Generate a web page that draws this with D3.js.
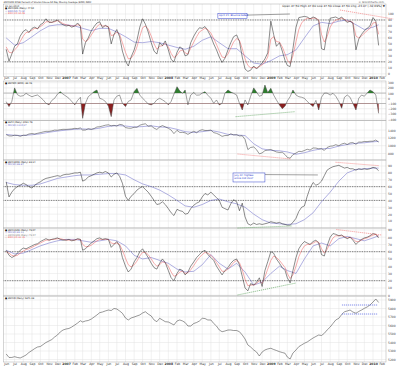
<!DOCTYPE html>
<html>
<head>
<meta charset="utf-8">
<script src="https://cdnjs.cloudflare.com/ajax/libs/d3/7.8.5/d3.min.js"></script>
<style>
  body { margin: 0; background: #fff; }
  svg { display: block; }
  text { font-family: "DejaVu Sans", "Liberation Sans", sans-serif; }
</style>
</head>
<body>
<svg id="chart" width="400" height="369"></svg>
<script>
// ---- dates: every 10 days (1st, 11th, 21st) and monthly, Jun 2006 .. Jan 2010
const days10 = [];
for (let m = 0; m < 44; m++) [1, 11, 21].forEach(d => days10.push(new Date(2006, 5 + m, d)));
const months = [];
for (let m = 0; m < 44; m++) months.push(new Date(2006, 5 + m, 1));
months.push(new Date(2010, 0, 21));

// ---- panel 1: $NYA50R
const nya50r = [41,21,33,46,50,63,71,74,69,76, 78,75,82,85,92,86,86,88,90,85, 82,80,81,78,80,85,79,33,52,60,
  72,79,85,87,77,81,78,50,66,74, 62,38,21,13,28,40,56,78,92,83, 70,52,38,33,52,47,55,40,24,20,
  36,45,42,30,32,52,63,71,77,76, 79,72,62,50,40,28,19,26,40,52, 62,65,54,28,8,4,6,13,8,13,
  18,25,35,88,66,46,52,38,22,14, 12,42,78,94,95,96,95,92,95,93, 88,42,40,70,93,94,95,92,95,90,
  86,88,85,40,58,66,72,76,80,94, 88,47.5];
const nya50rEma10 = [45,36,35,40,45,54,63,69,70,73, 76,76,79,82,87,87,86,87,89,87, 84,82,81,80,80,82,81,58,54,57,
  65,72,79,83,80,80,79,64,65,70, 66,52,36,25,26,33,45,62,77,80, 75,63,50,41,46,47,51,45,34,27,
  31,38,40,35,33,43,53,62,70,73, 76,74,68,59,49,38,28,27,33,43, 53,59,56,42,25,14,10,11,10,12,
  15,20,28,58,62,54,53,45,33,23, 17,30,54,74,85,90,93,92,93,93, 90,66,53,62,78,86,90,91,93,91,
  88,88,86,63,60,63,68,72,76,85, 86,66];
const nya50rEma50 = [60,48,52,62,72,80,82,82,80,76, 72,76,76,70,62,53,52,54,52,48, 44,41,46,56,62,52,42,42,30,18,
  16,22,30,32,40,60,80,86,84,88, 90,82,74,78,82];

// ---- panel 2: $NYMO
const nymo = [-65,-160,-60,200,70,40,50,96,60,30, 50,63,20,-30,-96,-125,-40,0,80,127, 80,40,0,-60,-125,-40,20,-385,-96,31,
  80,130,160,0,-20,-60,-150,-353,-32,40, 63,-96,-160,-60,-32,130,191,63,0,-50, -110,-125,-96,-30,0,-30,-65,-125,-60,80,
  223,140,96,160,-125,63,110,60,63,100, 127,60,0,-96,-32,-128,-96,96,160,120, 96,63,-96,-225,-32,-128,40,200,120,40,
  60,256,110,192,63,-32,-128,-200,-150,-50, 31,160,63,31,20,0,-60,-110,-160,-40, -225,20,100,100,63,96,40,-60,-192,20,
  63,20,-96,-225,0,63,40,100,160,127, 63,-290];

// ---- panel 3: $SPX
const spx = [1285,1250,1250,1270,1265,1240,1270,1265,1300,1311,1300,1318,1335,1353,1368,1367,1380,1400,1396,1410,1420,
  1418,1423,1430,1445,1438,1456,1400,1402,1435,1420,1440,1480,1486,1505,1525,1536,1510,1522,1503,1547,1534,
  1465,1450,1447,1474,1472,1525,1547,1562,1500,1508,1450,1416,1481,1515,1484,
  1447,1401,1310,1395,1340,1342,1330,1290,1330,1370,1332,1388,1409,1390,1390,1400,1335,1318,1284,1239,1260,
  1260,1305,1277,1282,1250,1255,1160,900,955,968,898,790,816,873,887,
  903,870,840,826,833,770,700,680,770,811,856,850,877,909,888,942,939,921,923,880,954,
  987,994,1026,998,1042,1064,1030,1072,1080,1036,1093,1091,1108,1106,1114,1115,1146,1091.76];
const spxMa50 = [1290,1265,1262,1280,1305,1345,1375,1400,1420,1430, 1420,1450,1495,1515,1505,1480,1490,1510,1480,1470,
  1420,1360,1340,1360,1390,1350,1290,1275,1260,1050, 920,880,870,840,780,820,880,920,930,990, 1030,1060,1075,1100,1110];

// ---- panel 4: $NYA200R
const nya200r = [67,45,52,57,60,62,65,63,60,58, 62,65,67,70,72,73,74,75,76,75, 77,78,78,79,80,80,81,68,70,74,
  76,78,80,81,80,82,80,74,78,80, 75,65,46,40,46,50,55,58,60,56, 52,46,40,34,35,38,34,28,22,18,
  27,25,24,20,21,28,33,36,38,45, 50,48,52,48,44,40,30,28,26,35, 41,38,25,36,16,6,4,7,5,6,
  5,6,7,9,8,7,8,6,5,4, 4,8,14,24,30,32,46,58,66,62, 64,68,76,84,87,89,90,91,89,87,
  88,86,86,84,86,85,86,85,86,88, 87,83.24];
const nya200rMa50 = [66,63,62,62,64,68,72,74,76,77, 77,78,79,79,77,70,64,60,55,48, 40,32,30,34,40,42,38,35,30,20,
  12,7,6,5,6,12,22,38,52,68, 80,85,86,87,87];

// ---- panel 5: $NYA150R
const nya150r = [62,55,52,54,58,62,65,64,66,68, 70,71,74,76,78,76,77,78,79,77, 76,76,77,75,76,78,77,62,64,68,
  72,75,78,79,77,78,77,66,70,74, 68,52,40,32,36,46,52,60,64,58, 52,44,38,36,44,50,45,34,24,20,
  30,36,34,28,32,40,46,52,56,60, 62,56,52,48,40,34,28,34,38,44, 48,50,42,26,10,6,16,14,18,24,
  12,34,46,60,58,50,44,38,34,24, 17,34,52,64,70,74,72,70,74,76, 72,56,54,68,80,85,84,82,83,80,
  78,80,76,70,74,77,79,80,82,85, 84,79];
const nya150rEma10 = [60,58,55,54,55,58,61,63,64,66, 68,70,72,74,76,76,77,77,78,78, 77,76,76,76,76,77,77,70,67,67,
  69,72,75,77,77,77,77,72,71,72, 70,62,51,42,39,42,47,54,59,59, 56,50,44,40,42,46,45,40,32,26,
  28,32,33,30,31,35,41,47,52,56, 59,58,55,51,45,39,33,33,36,40, 45,48,45,35,22,13,14,14,16,20,
  16,25,36,48,54,52,48,43,38,30, 23,28,40,53,62,68,70,70,72,74, 73,64,58,63,72,79,82,82,82,81,
  79,80,78,74,74,76,78,79,81,83, 84,81];
const nya150rMa20 = [62,57,58,63,68,72,75,77,77,75, 73,75,77,75,68,55,50,52,48,44, 36,32,33,42,56,44,36,44,32,14,
  18,30,40,34,30,50,68,72,68,78, 81,78,75,79,82];

// ---- panel 6: $NYAD
const nyad = [5265,5224,5224,5233,5224,5218,5235,5253,5282,5306, 5329,5347,5353,5376,5400,5418,5435,5465,5488,5524,
  5547,5559,5565,5582,5606,5629,5656,5641,5653,5659, 5676,5700,5724,5751,5759,5771,5782,5776,5800,5794,
  5771,5744,5688,5665,5688,5700,5712,5724,5747,5762, 5735,5712,5665,5645,5685,5665,5645,5641,5624,5606,
  5653,5665,5653,5635,5594,5594,5624,5635,5653,5685, 5682,5665,5665,5624,5594,5547,5527,5535,5547,5547,
  5541,5541,5527,5488,5441,5371,5347,5312,5288,5241, 5288,5312,5324,5332,5318,5306,5292,5282,5273,5229,
  5206,5276,5312,5351,5371,5391,5406,5429,5453,5471, 5488,5482,5508,5547,5582,5624,5665,5685,5729,5762,
  5771,5782,5759,5744,5765,5782,5802,5818,5841,5876, 5912,5871];

// ---- trend lines: [panel, start date, start value, end date, end value, kind]
const trendLines = [
  [0, "2009-09-05", 106.7, "2010-03-15", 91.6, "red"],
  [1, "2008-08-28", -354, "2009-03-27", -258, "green"],
  [2, "2008-09-04", 787, "2009-03-14", 659, "red"],
  [3, "2008-09-04", -0.2, "2009-03-18", 2.8, "green"],
  [3, "2009-08-20", 95.5, "2010-01-22", 90.5, "red"],
  [4, "2008-09-04", 0.3, "2009-04-01", 16.8, "green"],
  [4, "2009-08-23", 90.6, "2010-02-01", 83, "red"],
  [5, "2009-09-12", 5841, "2010-01-17", 5841, "blue"],
  [5, "2009-09-12", 5735, "2010-01-17", 5735, "blue"]
];

// ---------------------------------------------------------------
const svg = d3.select("#chart");
const L = 3.5, R = 386;
const parse = d3.timeParse("%Y-%m-%d");
const x = d3.scaleTime().domain([new Date(2006, 5, 1), new Date(2010, 1, 1)]).range([6.2, 381.7]);
const monthTicks = d3.timeMonth.range(new Date(2006, 5, 1), new Date(2010, 1, 2));

const BLACK = "#1a1a1a", RED = "#ef5a5a", BLUE = "#6262c4";
const trendColor = { red: "#f06a6a", green: "#4d9a4d", blue: "#3344dd" };

const panels = [
  { top: 4, bottom: 76.5, y: d3.scaleLinear().domain([0, 100]).range([73.8, 14]),
    ticks: d3.range(0, 101, 10), dotted: [90, 20],
    legend: [["22-Jan-2010", "#333"], ["\u25a0 $NYA50R (Daily) 47.50", "#111"], ["\u2014 EMA(50) 71.64", BLUE], ["\u2014 EMA(10) 65.08", RED]] },
  { top: 81, bottom: 120.5, y: d3.scaleLinear().domain([0, 100]).range([98.3, 93.1]),
    ticks: d3.range(-400, 301, 100), solid: [100, -100],
    legend: [["\u25a0 $NYMO (EOD) -89.46", "#111"]] },
  { top: 120.5, bottom: 160, y: d3.scaleLinear().domain([1000, 1400]).range([145.7, 130.1]),
    ticks: [800, 1000, 1200, 1400],
    legend: [["\u25a0 $SPX (Daily) 1091.76", "#111"], ["\u2014 MA(50) 1110.27", BLUE]] },
  { top: 160, bottom: 228, y: d3.scaleLinear().domain([0, 100]).range([227.9, 159.15]),
    ticks: d3.range(10, 91, 10), dotted: [60, 40],
    legend: [["\u25a0 $NYA200R (Daily) 83.24", "#111"], ["\u2014 MA(50) 86.87", BLUE]] },
  { top: 228, bottom: 296, y: d3.scaleLinear().domain([0, 100]).range([295.2, 222.7]),
    ticks: d3.range(0, 91, 10), dotted: [60, 20],
    legend: [["\u25a0 $NYA150R (Daily) 79.07", "#111"], ["\u2014 MA(20) 82.11", BLUE], ["\u2014 $NYA150R (Daily) 79.07", "#777"], ["\u2014 EMA(10) 81.35", RED]] },
  { top: 296, bottom: 362, y: d3.scaleLinear().domain([5900, 5200]).range([300, 359.5]),
    ticks: d3.range(5200, 5901, 100),
    legend: [["\u25a0 $NYAD (Daily) 5871.28", "#111"]] }
];

// frames, grids, labels
panels.forEach(function (p) {
  const g = svg.append("g");
  g.selectAll("line.v").data(monthTicks).enter().append("line")
    .attr("x1", d => x(d)).attr("x2", d => x(d))
    .attr("y1", p.top).attr("y2", p.bottom)
    .attr("stroke", "#e2e2e2").attr("stroke-width", 0.5);
  g.selectAll("line.h").data(p.ticks.filter(t => p.y(t) > p.top + 0.5 && p.y(t) < p.bottom - 0.5)).enter().append("line")
    .attr("x1", L).attr("x2", R)
    .attr("y1", d => p.y(d)).attr("y2", d => p.y(d))
    .attr("stroke", "#e2e2e2").attr("stroke-width", 0.5);
  (p.solid || []).forEach(function (v) {
    g.append("line").attr("x1", L).attr("x2", R).attr("y1", p.y(v)).attr("y2", p.y(v))
      .attr("stroke", "#999").attr("stroke-width", 0.6);
  });
  (p.dotted || []).forEach(function (v) {
    g.append("line").attr("x1", L).attr("x2", R).attr("y1", p.y(v)).attr("y2", p.y(v))
      .attr("stroke", "#222").attr("stroke-width", 0.7).attr("stroke-dasharray", "0.8,0.9");
  });
  g.append("rect").attr("x", L).attr("y", p.top).attr("width", R - L).attr("height", p.bottom - p.top)
    .attr("fill", "none").attr("stroke", "#aaa").attr("stroke-width", 0.5);

  const ax = svg.append("g").attr("transform", "translate(" + R + ",0)")
    .call(d3.axisRight(p.y).tickValues(p.ticks.filter(t => p.y(t) > p.top && p.y(t) < p.bottom + 1))
      .tickSize(0).tickPadding(2).tickFormat(d3.format("d")));
  ax.select(".domain").remove();
  ax.selectAll("text").attr("font-size", 3).attr("fill", "#444").attr("font-family", "DejaVu Sans");

  p.legend.forEach(function (l, k) {
    svg.append("text").attr("x", 5).attr("y", p.top + 2.6 + k * 2.6)
      .attr("font-size", 2.3).attr("fill", l[1]).text(l[0]);
  });
});

// header
svg.append("text").attr("x", 3.5).attr("y", 2.9).attr("font-size", 2.3).attr("fill", "#222")
  .text("$NYA50R NYSE Percent of Stocks Above 50 Day Moving Average (EOD) INDX");
svg.append("text").attr("x", 384).attr("y", 2.9).attr("font-size", 2.6).attr("fill", "#555")
  .attr("text-anchor", "end").text("\u00a9 StockCharts.com");
svg.append("text").attr("x", 385).attr("y", 6.6).attr("font-size", 2.9).attr("fill", "#222")
  .attr("text-anchor", "end").text("Open 47.50  High 47.60  Low 47.50  Close 47.50  Chg -23.07 (-32.69%) \u25bc");

// date axes
function dateAxis(yPos) {
  const ax = svg.append("g").attr("transform", "translate(0," + yPos + ")")
    .call(d3.axisBottom(x).tickValues(monthTicks).tickSize(0).tickPadding(0)
      .tickFormat(d => d.getMonth() === 0 ? String(d.getFullYear()) : d3.timeFormat("%b")(d)));
  ax.select(".domain").remove();
  ax.selectAll("text").attr("font-size", 3.1).attr("fill", "#333").attr("font-family", "DejaVu Sans")
    .attr("font-weight", d => d.getMonth() === 0 ? "bold" : "normal");
}
dateAxis(77.2);
dateAxis(363);

// series drawing
function drawLine(p, dates, vals, color, w) {
  const line = d3.line().x((d, i) => x(dates[i])).y(d => p.y(d));
  svg.append("path").datum(vals).attr("d", line)
    .attr("fill", "none").attr("stroke", color).attr("stroke-width", w)
    .attr("stroke-linejoin", "round");
}

// panel 2 fills beyond +/-100
const p2 = panels[1];
const defs = svg.append("defs");
defs.append("clipPath").attr("id", "clipUp").append("rect")
  .attr("x", L).attr("y", p2.top - 20).attr("width", R - L).attr("height", p2.y(100) - p2.top + 20);
defs.append("clipPath").attr("id", "clipDn").append("rect")
  .attr("x", L).attr("y", p2.y(-100)).attr("width", R - L).attr("height", p2.bottom - p2.y(-100) + 20);
svg.append("path").datum(nymo).attr("clip-path", "url(#clipUp)")
  .attr("d", d3.area().x((d, i) => x(days10[i])).y0(p2.y(100)).y1(d => p2.y(d)))
  .attr("fill", "#2f7d2f");
svg.append("path").datum(nymo).attr("clip-path", "url(#clipDn)")
  .attr("d", d3.area().x((d, i) => x(days10[i])).y0(p2.y(-100)).y1(d => p2.y(d)))
  .attr("fill", "#8a1f1f");

drawLine(panels[0], months, nya50rEma50, BLUE, 0.5);
drawLine(panels[0], days10, nya50rEma10, RED, 0.5);
drawLine(panels[0], days10, nya50r, BLACK, 0.5);
drawLine(panels[1], days10, nymo, "#444", 0.5);
drawLine(panels[2], months, spxMa50, BLUE, 0.5);
drawLine(panels[2], days10, spx, "#333", 0.5);
drawLine(panels[3], months, nya200rMa50, BLUE, 0.5);
drawLine(panels[3], days10, nya200r, BLACK, 0.5);
drawLine(panels[4], months, nya150rMa20, BLUE, 0.5);
drawLine(panels[4], days10, nya150rEma10, RED, 0.5);
drawLine(panels[4], days10, nya150r, BLACK, 0.5);
drawLine(panels[5], days10, nyad, "#333", 0.5);

// trend lines
trendLines.forEach(function (t) {
  const p = panels[t[0]];
  svg.append("line")
    .attr("x1", x(parse(t[1]))).attr("y1", p.y(t[2]))
    .attr("x2", x(parse(t[3]))).attr("y2", p.y(t[4]))
    .attr("stroke", trendColor[t[5]]).attr("stroke-width", 0.6).attr("stroke-dasharray", "1.2,0.8");
});

// annotations
function note(p, d0, v0, d1, v1, lines, linkTo) {
  const x0 = x(parse(d0)), x1 = x(parse(d1)), y0 = p.y(v0), y1 = p.y(v1);
  svg.append("line").attr("x1", x1).attr("y1", y0 + 1.6).attr("x2", x(parse(linkTo[0]))).attr("y2", p.y(linkTo[1]))
    .attr("stroke", "#444").attr("stroke-width", 0.5);
  svg.append("rect").attr("x", x0).attr("y", y0).attr("width", x1 - x0).attr("height", y1 - y0)
    .attr("fill", "#fff").attr("stroke", "#3344cc").attr("stroke-width", 0.5);
  lines.forEach(function (s, k) {
    svg.append("text").attr("x", x0 + 1.2).attr("y", y0 + 2.9 + k * 3.1)
      .attr("font-size", 2.5).attr("fill", "#2233cc").text(s);
  });
}
note(panels[0], "2008-06-26", 100.8, "2008-10-08", 92.5, ["April 15: Bounce Faded"], ["2009-03-10", 100]);
note(panels[3], "2008-08-19", 79.9, "2008-12-11", 66.8, ["July 22: highest", "since mid 2007"], ["2009-06-18", 77]);
</script>
</body>
</html>
